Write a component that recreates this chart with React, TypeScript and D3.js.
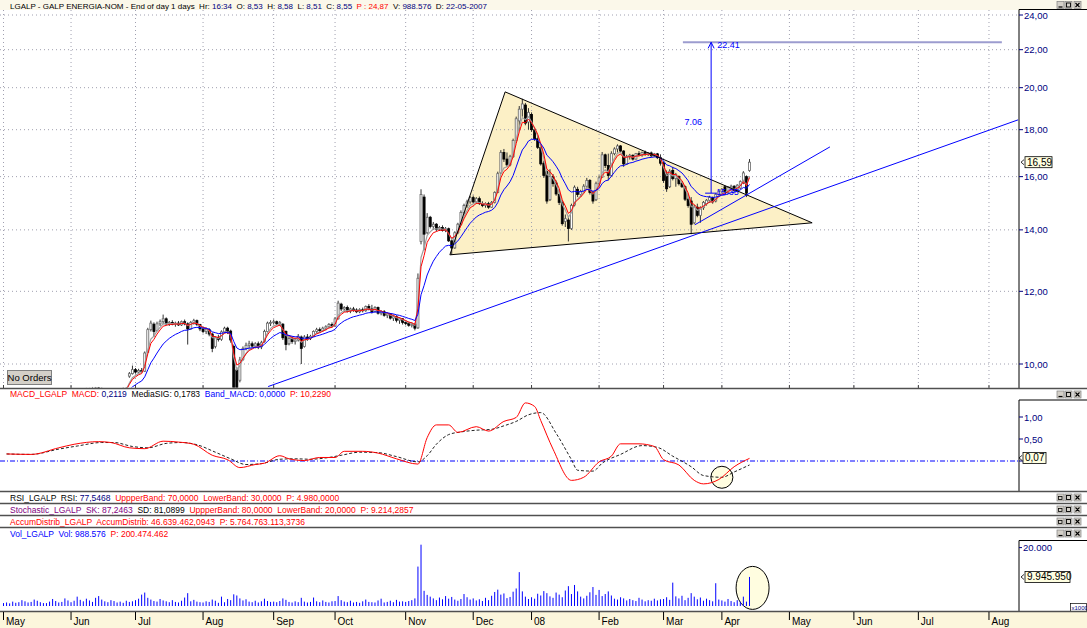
import React from "react";
import * as d3 from "d3";

// ---------------- data ----------------
const holidays = ["2007-12-25", "2007-12-26", "2008-01-01", "2008-03-21", "2008-03-24", "2008-05-01"];

const opens = [
  8.00,8.03,8.06,8.12,8.08,8.16,8.21,8.18,8.26,8.31,8.28,8.36,8.41,8.46,8.53,8.55,8.62,8.66,8.72,8.80,8.85,8.91,
  8.95,9.02,9.12,9.06,9.21,9.34,9.36,9.38,9.40,9.42,9.40,9.35,9.30,9.28,9.36,9.25,9.31,9.37,9.40,9.70,9.76,
  9.86,9.80,9.84,9.82,10.30,10.90,11.05,10.88,11.06,11.12,11.20,11.06,11.10,11.05,11.08,11.03,11.12,11.06,10.92,11.10,11.15,11.04,
  10.92,10.85,10.90,10.78,10.45,10.68,10.64,10.84,10.94,10.86,10.45,9.85,9.60,10.12,10.40,10.48,10.52,10.46,10.52,10.44,10.58,10.85,11.08,
  11.10,11.12,11.06,11.05,10.85,10.52,10.66,10.58,10.62,10.70,10.45,10.70,10.66,10.72,10.85,10.90,10.88,10.94,10.98,11.04,
  11.00,11.20,11.62,11.48,11.52,11.42,11.48,11.45,11.40,11.46,11.43,11.55,11.48,11.40,11.52,11.36,11.40,11.30,11.34,11.22,11.26,11.16,11.20,
  11.10,11.08,11.02,11.05,10.95,13.60,15.20,13.90,14.45,14.12,14.20,14.02,14.08,13.98,14.04,13.62,13.38,13.90,14.20,14.62,14.88,15.02,
  15.18,15.02,15.14,14.96,14.88,14.95,14.82,15.00,15.38,16.15,17.00,16.72,16.48,16.82,17.52,18.40,18.95,19.15,18.35,
  18.70,18.00,17.60,17.22,16.55,16.20,15.10,16.00,15.75,15.30,15.00,14.30,14.35,14.05,14.90,15.50,15.30,15.42,15.62,15.85,15.38,15.10,
  15.72,15.98,16.90,16.45,16.05,16.95,17.15,17.28,17.06,16.52,16.82,16.88,16.72,16.95,16.88,17.00,16.92,16.98,16.86,16.94,16.78,
  16.55,16.10,15.60,16.25,15.92,16.00,15.72,15.60,15.12,15.05,14.25,14.82,14.52,14.80,14.95,15.08,15.18,15.05,15.30,
  15.42,15.60,15.38,15.55,15.62,15.46,15.55,15.75,16.00,16.25,
];
const highs = [
  8.06,8.09,8.14,8.15,8.18,8.24,8.23,8.28,8.33,8.34,8.38,8.43,8.48,8.52,8.58,8.64,8.70,8.74,8.82,8.88,8.94,8.98,
  9.05,9.14,9.16,9.24,9.36,9.42,9.42,9.44,9.44,9.44,9.43,9.40,9.36,9.40,9.40,9.34,9.40,9.43,9.44,9.80,9.96,
  9.90,9.88,9.90,10.32,10.95,11.15,11.10,11.12,11.18,11.32,11.24,11.14,11.16,11.12,11.14,11.15,11.18,11.10,11.14,11.20,11.18,11.06,
  10.98,10.96,10.94,10.82,10.72,10.76,10.88,10.98,10.98,10.90,10.50,9.92,10.18,10.45,10.55,10.60,10.58,10.56,10.58,10.60,10.90,11.12,11.16,
  11.18,11.15,11.14,11.08,10.88,10.70,10.72,10.68,10.78,10.74,10.75,10.78,10.76,10.88,10.95,10.96,10.98,11.02,11.08,11.10,
  11.25,11.72,11.66,11.56,11.58,11.52,11.54,11.50,11.50,11.52,11.58,11.62,11.60,11.56,11.55,11.44,11.45,11.38,11.36,11.32,11.30,11.24,11.22,
  11.16,11.12,11.10,11.08,12.55,15.50,15.30,14.60,14.50,14.28,14.24,14.14,14.16,14.10,14.08,13.70,13.95,14.25,14.70,14.95,15.10,15.24,
  15.26,15.20,15.22,15.04,15.00,15.02,15.05,15.42,16.20,17.10,17.15,17.00,16.90,17.60,18.60,19.10,19.45,19.25,19.00,
  18.80,18.10,17.75,17.30,16.65,16.25,16.30,16.10,15.85,15.45,15.05,14.55,14.45,14.95,15.65,15.60,15.48,15.70,15.95,15.90,15.45,15.80,
  16.05,17.02,16.95,16.95,17.05,17.22,17.35,17.32,17.10,16.90,16.94,16.92,16.98,17.06,17.04,17.08,17.02,17.04,16.98,16.98,16.92,
  16.62,16.25,16.30,16.40,16.15,16.05,15.80,15.65,15.30,15.20,14.90,14.95,14.85,15.05,15.12,15.25,15.22,15.35,15.48,
  15.55,15.65,15.62,15.68,15.66,15.70,15.85,16.22,16.05,16.72,
];
const lows = [
  7.96,8.00,8.04,8.05,8.06,8.12,8.14,8.16,8.22,8.25,8.26,8.33,8.38,8.42,8.51,8.52,8.58,8.63,8.70,8.76,8.82,8.86,
  8.92,9.00,9.03,9.05,9.18,9.30,9.28,9.32,9.33,9.36,9.30,9.26,9.24,9.26,9.22,9.20,9.28,9.33,9.34,9.66,9.74,
  9.76,9.75,9.78,9.80,10.28,10.85,10.70,10.85,11.00,11.05,11.02,11.00,11.02,10.98,11.00,11.00,11.02,10.50,10.90,11.04,11.00,10.86,
  10.80,10.78,10.72,10.30,10.40,10.58,10.60,10.80,10.78,10.55,9.10,9.15,9.55,10.08,10.35,10.40,10.42,10.40,10.38,10.38,10.55,10.82,11.00,
  11.04,11.02,11.00,10.62,10.35,10.48,10.52,10.50,10.58,10.00,10.42,10.60,10.62,10.70,10.80,10.82,10.84,10.88,10.94,10.96,
  10.98,11.18,11.42,11.40,11.38,11.36,11.40,11.36,11.36,11.38,11.40,11.44,11.35,11.38,11.32,11.30,11.26,11.22,11.18,11.14,11.10,11.06,11.04,
  11.02,10.98,10.96,10.88,10.92,13.50,13.30,13.85,14.05,14.00,13.95,13.96,13.94,13.92,13.58,13.15,13.35,13.85,14.15,14.55,14.80,14.95,
  14.96,14.94,14.90,14.82,14.80,14.76,14.80,14.96,15.35,16.10,16.60,16.40,16.42,16.78,17.48,18.00,18.60,18.20,18.00,
  17.90,17.50,17.15,16.45,15.95,14.95,15.05,15.60,15.25,14.90,14.15,14.10,13.60,14.00,14.85,15.20,15.20,15.35,15.55,15.30,14.95,15.05,
  15.65,15.95,16.35,15.85,16.00,16.88,17.00,17.00,16.40,16.48,16.70,16.66,16.70,16.84,16.82,16.86,16.85,16.80,16.82,16.72,16.45,
  15.75,15.40,15.55,15.85,15.60,15.65,15.55,15.05,14.80,13.85,14.20,14.45,14.25,14.72,14.88,14.98,14.95,15.00,15.25,
  15.35,15.30,15.35,15.45,15.40,15.42,15.50,15.70,15.20,16.20,
];
const closes = [
  8.03,8.06,8.12,8.08,8.16,8.21,8.18,8.26,8.31,8.28,8.36,8.41,8.46,8.50,8.55,8.62,8.66,8.72,8.80,8.85,8.91,8.95,
  9.02,9.12,9.06,9.21,9.34,9.38,9.38,9.40,9.42,9.40,9.35,9.30,9.28,9.36,9.25,9.31,9.37,9.40,9.41,9.76,9.86,
  9.80,9.84,9.82,10.28,10.90,11.08,10.85,11.06,11.12,11.20,11.06,11.10,11.05,11.08,11.03,11.12,11.06,10.92,11.10,11.15,11.04,10.92,
  10.85,10.90,10.78,10.40,10.68,10.64,10.84,10.94,10.86,10.62,9.30,9.38,10.10,10.40,10.48,10.52,10.46,10.52,10.44,10.55,10.85,11.08,11.10,
  11.12,11.06,11.10,10.68,10.50,10.66,10.58,10.62,10.72,10.40,10.70,10.66,10.72,10.85,10.90,10.88,10.94,10.98,11.04,11.00,
  11.20,11.65,11.48,11.52,11.42,11.48,11.45,11.40,11.46,11.43,11.55,11.48,11.40,11.52,11.36,11.40,11.30,11.34,11.22,11.26,11.16,11.20,11.10,
  11.08,11.02,11.05,10.94,12.40,15.30,13.85,14.45,14.12,14.20,14.02,14.08,13.98,14.04,13.62,13.38,13.90,14.20,14.62,14.88,15.02,15.18,
  15.02,15.14,14.96,14.88,14.95,14.82,15.00,15.38,16.12,17.00,16.72,16.48,16.82,17.52,18.50,18.95,19.20,18.30,18.80,
  18.00,17.60,17.22,16.52,16.05,15.05,16.00,15.72,15.32,15.00,14.22,14.40,14.05,14.88,15.58,15.30,15.42,15.62,15.85,15.38,15.05,15.72,
  15.95,16.90,16.45,16.05,16.95,17.15,17.28,17.06,16.52,16.82,16.88,16.72,16.95,16.88,17.00,16.92,16.98,16.86,16.94,16.78,16.55,
  15.85,15.52,16.22,15.92,16.08,15.72,15.60,15.12,14.88,14.20,14.82,14.52,14.80,15.00,15.08,15.18,15.02,15.30,15.42,
  15.50,15.38,15.58,15.62,15.46,15.66,15.80,16.15,15.35,16.59,
];
// volume in millions of shares
const volumes = [
  1.0,1.2,0.9,1.5,1.1,1.3,2.0,1.6,1.2,1.4,2.2,1.8,1.3,1.0,0.99,1.5,2.4,1.7,1.2,1.4,2.6,1.9,
  1.3,1.8,3.2,2.1,1.6,2.5,1.9,1.4,2.8,3.4,2.2,1.6,1.3,2.0,1.7,1.2,1.5,1.1,1.8,1.4,1.6,
  2.0,2.5,3.9,4.6,2.8,2.2,1.7,1.5,2.4,1.9,1.6,1.3,2.0,1.4,1.2,1.8,2.9,4.4,1.6,2.1,1.5,1.3,
  1.2,1.6,1.4,2.2,1.8,1.1,3.2,1.3,2.4,2.0,4.0,3.6,2.6,1.9,2.3,1.5,1.3,1.8,1.2,1.6,2.5,1.7,1.4,
  1.5,1.3,1.7,2.6,2.1,1.4,1.2,1.6,1.3,2.8,1.5,1.2,1.4,2.9,1.6,1.3,1.9,1.4,1.2,1.6,
  1.7,3.4,2.0,1.5,1.3,1.8,1.2,1.4,1.1,1.6,2.2,1.4,1.3,1.2,1.9,2.5,1.2,1.4,1.8,1.3,2.1,1.5,1.6,
  1.4,1.7,2.0,2.6,13.5,21.0,5.2,3.8,3.2,2.6,2.0,2.9,2.3,3.4,2.5,3.1,2.2,1.8,2.4,4.1,3.0,2.2,
  2.6,1.9,2.3,1.7,2.8,2.0,3.5,4.8,5.6,3.9,4.3,2.7,3.1,4.9,6.0,11.6,5.0,3.2,2.4,
  3.0,2.5,4.2,3.6,5.1,4.4,3.3,2.8,4.6,3.9,3.0,5.3,6.8,4.1,7.2,5.0,3.2,2.6,3.5,4.7,6.5,3.8,
  5.5,3.4,4.1,5.0,3.6,2.5,2.2,3.0,2.6,1.9,2.4,2.0,1.7,2.8,2.2,1.6,2.0,1.8,2.5,1.9,2.3,
  2.4,3.0,2.1,8.0,3.3,2.6,3.5,2.0,2.8,4.4,3.2,2.3,2.9,1.8,2.5,2.0,1.6,7.8,2.2,
  1.9,1.5,2.4,1.7,1.3,2.0,1.4,3.2,1.5,9.95,
];
// MACD and its signal line [trading-day index, value]
const macdPoints: [number, number][] = [
  [1,0.16],[9,0.15],[18,0.30],[23,0.38],[31,0.44],[35,0.42],[41,0.30],[46,0.28],[52,0.45],[57,0.43],[62,0.38],
  [68,0.13],[73,0.03],[77,-0.15],[82,-0.08],[85,-0.05],[90,0.12],[93,0.05],[98,0.01],[103,0.08],[108,0.08],
  [111,0.22],[117,0.22],[122,0.18],[128,0.05],[135,-0.07],[138,0.53],[141,0.82],[145,0.82],[148,0.65],[154,0.78],
  [158,0.68],[163,0.90],[167,0.99],[170,1.32],[173,1.24],[175,0.92],[179,0.27],[185,-0.44],[189,-0.37],[194,-0.02],
  [198,0.11],[201,0.39],[207,0.39],[212,0.33],[215,0.03],[220,-0.09],[225,-0.44],[228,-0.52],[233,-0.42],[238,-0.13],[243,0.06],
];
const signalPoints: [number, number][] = [
  [1,0.16],[9,0.15],[18,0.27],[24,0.34],[32,0.42],[36,0.42],[42,0.33],[47,0.30],[53,0.40],[58,0.42],[63,0.37],
  [69,0.20],[74,0.05],[79,-0.08],[84,-0.06],[90,0.04],[95,0.05],[100,0.04],[105,0.07],[110,0.13],[116,0.20],
  [122,0.19],[128,0.10],[135,-0.02],[138,0.12],[141,0.38],[145,0.60],[149,0.66],[154,0.70],[159,0.72],[163,0.80],
  [167,0.90],[171,1.05],[175,1.10],[180,0.63],[185,0.03],[187,-0.21],[192,-0.23],[195,-0.05],[201,0.15],[208,0.35],
  [213,0.31],[218,0.11],[224,-0.13],[228,-0.33],[234,-0.37],[238,-0.25],[243,-0.09],
];

const priceTicks = [10, 12, 14, 16, 18, 20, 22, 24];
const macdTicks = [1, 0.5, 0];
const volTicks = [20];

// drawn objects, in [day index, price]
const triangle: [number, number][] = [[145.4, 13.15], [163.4, 19.79], [263.4, 14.25]];
const trendLong: [number, number][] = [[86.2, 9.45], [330.5, 18.45]];
const trendShort: [number, number][] = [[225.2, 14.18], [269.2, 17.24]];
const targetLine: [number, number][] = [[221.3, 22.41], [325.2, 22.41]];
const arrowDay = 230.5;
const arrowFrom = 15.35;
const arrowTo = 22.41;
const macdCircle: [number, number] = [234, -0.37];
const volEllipse: [number, number] = [244, 6.2];

const lastPrice = 16.59;
const lastMacd = 0.07;
const lastVol = 9.94595;

const FONT = "Arial, 'Liberation Sans', sans-serif";

function ema(vals: number[], n: number) {
  const a = 2 / (n + 1);
  let e = vals[0];
  return vals.map((v, i) => (e = i === 0 ? v : a * v + (1 - a) * e));
}

const Icons = ({ y, restore }: { y: number; restore?: boolean }) => (
  <g>
    {[1057, 1065, 1074].map((ix, k) => (
      <g key={k}>
        <rect x={ix} y={y - 3.5} width={7} height={7} fill="#D4D0C8" stroke="#808080" strokeWidth={0.7} />
        {k === 0 && !restore && <line x1={ix + 1.5} x2={ix + 5.5} y1={y + 2} y2={y + 2} stroke="#000" strokeWidth={1.2} />}
        {k === 0 && restore && <rect x={ix + 1.5} y={y - 1} width={3.5} height={3} fill="none" stroke="#000" strokeWidth={0.8} />}
        {k === 1 && <rect x={ix + 1.5} y={y - 2} width={4} height={4} fill="none" stroke="#000" strokeWidth={0.9} />}
        {k === 2 && (
          <path d={`M${ix + 1.5},${y - 2} L${ix + 5.5},${y + 2} M${ix + 5.5},${y - 2} L${ix + 1.5},${y + 2}`} stroke="#000" strokeWidth={1.1} />
        )}
      </g>
    ))}
  </g>
);

type Seg = [string, string];
const HeaderText = ({ x, y, size, segs }: { x: number; y: number; size: number; segs: Seg[] }) => (
  <text x={x} y={y} fontFamily={FONT} fontSize={size} style={{ whiteSpace: "pre" }}>
    {segs.map((s, i) => (
      <tspan key={i} fill={s[1]}>{s[0]}</tspan>
    ))}
  </text>
);

const ValueBox = ({ x, y, w, label }: { x: number; y: number; w: number; label: string }) => (
  <g>
    <path d={`M${x - 1},${y - 2.5} L${x - 4},${y} L${x - 1},${y + 2.5}`} fill="none" stroke="#000" strokeWidth={0.8} />
    <rect x={x} y={y - 5.5} width={w} height={11} fill="#FFFFE1" stroke="#000" strokeWidth={0.8} />
    <text x={x + 2} y={y + 3.5} fontFamily={FONT} fontSize={10} fill="#000">{label}</text>
  </g>
);

const comma2 = (v: number) => d3.format(".2f")(v).replace(".", ",");

export default function App() {
  const fmtDay = d3.timeFormat("%Y-%m-%d");
  const days = d3.timeDay
    .range(new Date(2007, 4, 2), new Date(2008, 8, 1))
    .filter((d) => d.getDay() !== 0 && d.getDay() !== 6 && !holidays.includes(fmtDay(d)));
  const monthTicks: { i: number; label: string }[] = [];
  days.forEach((d, i) => {
    if (i === 0 || d.getMonth() !== days[i - 1].getMonth()) {
      monthTicks.push({ i, label: d.getMonth() === 0 ? d3.timeFormat("%y")(d) : d3.timeFormat("%b")(d) });
    }
  });

  const PLOT_R = 1018.5;
  const x = d3.scaleLinear().domain([0, 330]).range([3.5, 3.5 + 3.07 * 330]);
  const yP = d3.scaleLog().domain([10, 24]).range([364, 15]);
  const yM = d3.scaleLinear().domain([0, 1]).range([461, 417]);
  const yV = d3.scaleLinear().domain([0, 20]).range([606, 547.6]);

  const pLine = d3.line<number>().x((_, i) => x(i)).y((v) => yP(v));
  const ema5 = ema(closes, 5);
  const ema4 = ema(closes, 4);
  const ema13 = ema(closes, 13);
  const mLine = d3.line<[number, number]>().x((d) => x(d[0])).y((d) => yM(d[1])).curve(d3.curveMonotoneX);
  const segP = (pts: [number, number][]) => d3.line<[number, number]>().x((d) => x(d[0])).y((d) => yP(d[1]))(pts) ?? "";

  const ax = x(arrowDay);
  const ay0 = yP(arrowFrom);
  const ay1 = yP(arrowTo);

  const seps = [388.5, 491.5, 503.5, 515.5, 527.5, 611.5];
  const visTicks = monthTicks.filter((m) => x(m.i) < PLOT_R);

  return (
    <svg width={1087} height={628} style={{ position: "absolute", left: 0, top: 0, display: "block", background: "#fff" }}>
      <defs>
        <clipPath id="clipMain"><rect x={0} y={10} width={PLOT_R} height={377.5} /></clipPath>
        <clipPath id="clipMacd"><rect x={0} y={400} width={PLOT_R} height={91} /></clipPath>
        <clipPath id="clipVol"><rect x={0} y={540} width={PLOT_R} height={71} /></clipPath>
      </defs>
      <rect x={0} y={0} width={1087} height={628} fill="#fff" />
      <rect x={0} y={0} width={1087} height={10} fill="#FBF8EA" />
      <rect x={0} y={612} width={1087} height={16} fill="#FCF6DC" />

      {/* ---------- main panel ---------- */}
      <g clipPath="url(#clipMain)">
        <path d={segP(triangle) + "Z"} fill="#FCF0C6" stroke="none" />
        {priceTicks.map((t) => (
          <line key={t} x1={0} x2={PLOT_R} y1={yP(t)} y2={yP(t)} stroke="#A0A0B0" strokeDasharray="1,3" />
        ))}
        {visTicks.map((m) => (
          <line key={m.i} x1={x(m.i)} x2={x(m.i)} y1={10} y2={388} stroke="#A0A0B0" strokeDasharray="1,3" />
        ))}
        {closes.map((c, i) => {
          const o = opens[i];
          const up = c >= o;
          const cx = x(i);
          const yo = yP(o);
          const yc = yP(c);
          return (
            <g key={i}>
              <line x1={cx} x2={cx} y1={yP(highs[i])} y2={yP(lows[i])} stroke="#333" strokeWidth={1} />
              <rect x={cx - 1} y={Math.min(yo, yc)} width={2} height={Math.max(1, Math.abs(yo - yc))}
                fill={up ? "#fff" : "#000"} stroke={up ? "#666" : "#000"} strokeWidth={0.8} />
            </g>
          );
        })}
        <path d={pLine(ema4) ?? ""} fill="none" stroke="#A0A0A0" strokeWidth={1.2} />
        <path d={pLine(ema5) ?? ""} fill="none" stroke="#FF0000" strokeWidth={1} />
        <path d={pLine(ema13) ?? ""} fill="none" stroke="#0000FF" strokeWidth={1} />
        <path d={segP(triangle) + "Z"} fill="none" stroke="#000" strokeWidth={1} />
        <path d={segP(trendLong)} fill="none" stroke="#0000FF" strokeWidth={1} />
        <path d={segP(trendShort)} fill="none" stroke="#0000FF" strokeWidth={1} />
        <path d={segP(targetLine)} fill="none" stroke="#9C9CCF" strokeWidth={2} />
        <line x1={ax} x2={ax} y1={ay0} y2={ay1} stroke="#0000FF" strokeWidth={1} />
        <line x1={ax - 6} x2={ax + 6} y1={ay0} y2={ay0} stroke="#0000FF" strokeWidth={1} />
        <path d={`M${ax - 3},${ay1 + 6} L${ax},${ay1} L${ax + 3},${ay1 + 6}`} fill="none" stroke="#0000FF" strokeWidth={1} />
        <text x={ax - 9} y={(ay0 + ay1) / 2 + 7} textAnchor="end" fontFamily={FONT} fontSize={9} fill="#0000FF">{(arrowTo - arrowFrom).toFixed(2)}</text>
        <text x={ax + 6} y={ay1 + 6} fontFamily={FONT} fontSize={9} fill="#0000FF">{arrowTo.toFixed(2)}</text>
        <text x={ax + 5} y={ay0 + 2} fontFamily={FONT} fontSize={9} fill="#0000FF">{arrowFrom.toFixed(2)}</text>
      </g>
      {/* month ticks on main bottom border */}
      {visTicks.map((m) => (
        <line key={"bt" + m.i} x1={x(m.i)} x2={x(m.i)} y1={385} y2={388} stroke="#404040" />
      ))}
      {/* No Orders */}
      <rect x={7.5} y={370.5} width={44} height={14} fill="#D4D0C8" stroke="#808080" />
      <text x={29.5} y={381} textAnchor="middle" fontFamily={FONT} fontSize={9.5} fill="#000">No Orders</text>

      {/* main right axis */}
      <line x1={1019} x2={1087} y1={9.5} y2={9.5} stroke="#000" />
      <line x1={1019} x2={1019} y1={9.5} y2={388} stroke="#000" />
      {priceTicks.map((t) => (
        <g key={t}>
          <line x1={1019} x2={1023} y1={yP(t)} y2={yP(t)} stroke="#000080" />
          <text x={1024} y={yP(t) + 3.5} fontFamily={FONT} fontSize={9.5} fill="#000080">{comma2(t)}</text>
        </g>
      ))}
      <ValueBox x={1025} y={yP(lastPrice)} w={27} label={comma2(lastPrice)} />
      <Icons y={5} />
      <HeaderText x={10} y={8.5} size={8} segs={[
        ["LGALP - GALP ENERGIA-NOM - End of day 1 days  Hr: ", "#000"], ["16:34", "#000080"],
        ["  O: ", "#000"], ["8,53", "#000080"], ["  H: ", "#000"], ["8,58", "#000080"],
        ["  L: ", "#000"], ["8,51", "#000080"], ["  C: ", "#000"], ["8,55", "#000080"],
        ["  P : 24,87", "#FF0000"], ["  V: ", "#000"], ["988.576", "#000080"],
        ["  D: ", "#000"], ["22-05-2007", "#000080"],
      ]} />

      {/* ---------- MACD panel ---------- */}
      <HeaderText x={10} y={397} size={8.5} segs={[
        ["MACD_LGALP  MACD: ", "#FF0000"], ["0,2119", "#000080"], ["  MediaSIG: 0,1783", "#000"],
        ["  Band_MACD: 0,0000", "#0000FF"], ["  P: 10,2290", "#FF0000"],
      ]} />
      <Icons y={394.5} />
      <g clipPath="url(#clipMacd)">
        <circle cx={x(macdCircle[0])} cy={yM(macdCircle[1])} r={11} fill="#FFFDE0" stroke="#000" strokeWidth={1} />
        <line x1={0} x2={PLOT_R} y1={yM(0)} y2={yM(0)} stroke="#0000FF" strokeWidth={1} strokeDasharray="5,2,1,2" />
        <path d={mLine(signalPoints) ?? ""} fill="none" stroke="#222" strokeWidth={1} strokeDasharray="3,2" />
        <path d={mLine(macdPoints) ?? ""} fill="none" stroke="#FF0000" strokeWidth={1} />
      </g>
      <line x1={1019} x2={1087} y1={400} y2={400} stroke="#000" />
      <line x1={1019} x2={1019} y1={400} y2={491} stroke="#000" />
      {macdTicks.map((t) => (
        <g key={t}>
          <line x1={1019} x2={1023} y1={yM(t)} y2={yM(t)} stroke="#000080" />
          {t !== 0 && <text x={1024} y={yM(t) + 3.5} fontFamily={FONT} fontSize={9.5} fill="#000080">{comma2(t)}</text>}
        </g>
      ))}
      <ValueBox x={1023} y={yM(lastMacd)} w={23} label={comma2(lastMacd)} />

      {/* ---------- collapsed panels ---------- */}
      <HeaderText x={10} y={501} size={8.5} segs={[
        ["RSI_LGALP  RSI: ", "#000"], ["77,5468", "#000080"], ["  UppperBand: 70,0000", "#FF0000"],
        ["  LowerBand: 30,0000", "#FF0000"], ["  P: 4.980,0000", "#FF0000"],
      ]} />
      <Icons y={497.5} restore />
      <HeaderText x={10} y={513} size={8.5} segs={[
        ["Stochastic_LGALP  SK: 87,2463", "#800080"], ["  SD: 81,0899", "#000"],
        ["  UppperBand: 80,0000", "#FF0000"], ["  LowerBand: 20,0000", "#FF0000"], ["  P: 9.214,2857", "#FF0000"],
      ]} />
      <Icons y={509.5} restore />
      <HeaderText x={10} y={525} size={8.5} segs={[
        ["AccumDistrib_LGALP  AccumDistrib: 46.639.462,0943", "#FF0000"], ["  P: 5.764.763.113,3736", "#FF0000"],
      ]} />
      <Icons y={521.5} restore />

      {/* ---------- Volume panel ---------- */}
      <HeaderText x={10} y={537} size={8.5} segs={[
        ["Vol_LGALP  Vol: 988.576", "#0000FF"], ["  P: 200.474.462", "#FF0000"],
      ]} />
      <Icons y={533.5} />
      <g clipPath="url(#clipVol)">
        <ellipse cx={x(volEllipse[0])} cy={yV(volEllipse[1])} rx={16.5} ry={21.5} fill="#FFFDE0" stroke="#000" strokeWidth={1} />
        {volumes.map((v, i) => (
          <line key={i} x1={x(i)} x2={x(i)} y1={yV(0)} y2={yV(v)} stroke="#0000FF" strokeWidth={1} />
        ))}
      </g>
      <line x1={1019} x2={1087} y1={540.5} y2={540.5} stroke="#000" />
      <line x1={1019} x2={1019} y1={540.5} y2={611} stroke="#000" />
      {volTicks.map((t) => (
        <g key={t}>
          <line x1={1019} x2={1022} y1={yV(t)} y2={yV(t)} stroke="#000080" />
          <text x={1023} y={yV(t) + 3.5} fontFamily={FONT} fontSize={9.5} fill="#000080">{d3.format(",.0f")(t * 1000).replace(/,/g, ".")}</text>
        </g>
      ))}
      <ValueBox x={1025} y={yV(lastVol)} w={45} label={d3.format(",")(Math.round(lastVol * 1e6)).replace(/,/g, ".")} />
      <rect x={1070.5} y={603.5} width={16} height={8} fill="#fff" stroke="#000" strokeWidth={0.7} />
      <text x={1071.5} y={610} fontFamily={FONT} fontSize={6} fill="#000080">x1000</text>

      {/* ---------- separators ---------- */}
      {seps.map((s) => (
        <line key={s} x1={0} x2={1087} y1={s} y2={s} stroke="#505050" strokeWidth={1.5} />
      ))}

      {/* ---------- x axis ---------- */}
      {visTicks.map((m) => (
        <g key={"xa" + m.i}>
          <line x1={x(m.i)} x2={x(m.i)} y1={612} y2={620} stroke="#000" />
          <text x={x(m.i) + 2.5} y={625} fontFamily={FONT} fontSize={10} fill="#000">{m.label}</text>
        </g>
      ))}
    </svg>
  );
}
